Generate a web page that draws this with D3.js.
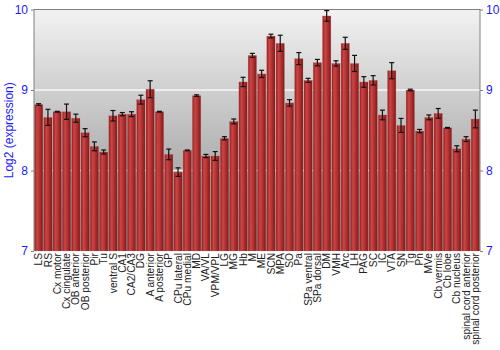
<!DOCTYPE html>
<html>
<head>
<meta charset="utf-8">
<script src="https://cdn.jsdelivr.net/npm/d3@7"></script>
<style>
  body { margin: 0; background: #fff; }
  svg { font-family: "Liberation Sans", Arial, sans-serif; }
</style>
</head>
<body>
<div id="viz"></div>
<script>
// regions (x categories)
var regions = ["LS","RS","Cx motor","Cx cingulate","OB anterior","OB posterior","Pir","Tu",
  "ventral S","CA1","CA2/CA3","DG","A anterior","A posterior","GP","CPu lateral","CPu medial",
  "MD","VA/VL","VPM/VPL","LG","MG","Hb","M","ME","SCN","MPA","SO","Pa","SPa ventral","SPa dorsal",
  "DM","VMH","Arc","LH","PAG","SC","IC","VTA","SN","Tg","Pn","MVe","Cb vermis","Cb lobe",
  "Cb nucleus","spinal cord anterior","spinal cord posterior"];

// log2 expression means
var means = [8.82,8.66,8.73,8.73,8.65,8.47,8.30,8.23,
  8.68,8.70,8.70,8.88,9.01,8.73,8.20,7.98,8.25,
  8.93,8.18,8.18,8.40,8.61,9.10,9.43,9.20,9.67,9.58,8.84,9.39,9.12,9.34,
  9.92,9.33,9.58,9.33,9.10,9.12,8.69,9.24,8.56,9.00,8.49,8.66,8.71,8.53,
  8.27,8.39,8.64];

// standard errors
var errors = [0.01,0.10,0.005,0.095,0.05,0.05,0.055,0.025,
  0.065,0.02,0.03,0.055,0.105,0.005,0.066,0.053,0.005,
  0.01,0.02,0.055,0.02,0.03,0.058,0.025,0.045,0.023,0.10,0.04,0.075,0.025,0.04,
  0.066,0.033,0.075,0.10,0.066,0.058,0.06,0.10,0.087,0.01,0.02,0.03,0.06,0.005,
  0.037,0.03,0.11];

var yTicks = [7, 8, 9, 10];

var W = 500, H = 350;
var margin = {top: 9.5, right: 20, bottom: 99, left: 34};
var width = W - margin.left - margin.right,
    height = H - margin.top - margin.bottom;

var svg = d3.select("#viz").append("svg")
    .attr("width", W).attr("height", H);

var defs = svg.append("defs");
var bg = defs.append("linearGradient").attr("id", "bg")
    .attr("x1", 0).attr("y1", 0).attr("x2", 0).attr("y2", 1);
bg.append("stop").attr("offset", "0%").attr("stop-color", "#f2f2f2");
bg.append("stop").attr("offset", "100%").attr("stop-color", "#8a8a8a");

var barGrad = defs.append("linearGradient").attr("id", "bar")
    .attr("x1", 0).attr("y1", 0).attr("x2", 1).attr("y2", 0);
barGrad.append("stop").attr("offset", "0%").attr("stop-color", "#8e1f1f");
barGrad.append("stop").attr("offset", "30%").attr("stop-color", "#cc4545");
barGrad.append("stop").attr("offset", "55%").attr("stop-color", "#b83535");
barGrad.append("stop").attr("offset", "100%").attr("stop-color", "#7e1a1a");

var g = svg.append("g")
    .attr("transform", "translate(" + margin.left + "," + margin.top + ")");

var x = d3.scaleBand()
    .domain(regions)
    .range([0, width])
    .paddingInner(0.1)
    .paddingOuter(0.05);

var y = d3.scaleLinear()
    .domain([7, 10])
    .range([height, 0]);

// background
g.append("rect")
    .attr("width", width).attr("height", height)
    .attr("fill", "url(#bg)");

// grid lines
g.selectAll(".grid")
  .data([8, 9])
  .enter().append("line")
    .attr("x1", 0).attr("x2", width)
    .attr("y1", function(d) { return y(d); })
    .attr("y2", function(d) { return y(d); })
    .attr("stroke", "#ffffff")
    .attr("stroke-width", 1.5)
    .attr("opacity", 0.85);

// bars
g.selectAll(".bar")
  .data(means)
  .enter().append("rect")
    .attr("x", function(d, i) { return x(regions[i]); })
    .attr("y", function(d) { return y(d); })
    .attr("width", x.bandwidth())
    .attr("height", function(d) { return height - y(d); })
    .attr("fill", "url(#bar)")
    .attr("stroke", "#c66")
    .attr("stroke-opacity", 0.35)
    .attr("stroke-width", 0.6);

// error bars
var eb = g.selectAll(".err")
  .data(means)
  .enter().append("g")
    .attr("transform", function(d, i) {
      return "translate(" + (x(regions[i]) + x.bandwidth() / 2) + ",0)";
    });
eb.append("line")
    .attr("y1", function(d, i) { return y(d + errors[i]); })
    .attr("y2", function(d, i) { return y(d - errors[i]); })
    .attr("stroke", "#111").attr("stroke-width", 1.2);
eb.append("line")
    .attr("x1", -2.5).attr("x2", 2.5)
    .attr("y1", function(d, i) { return y(d + errors[i]); })
    .attr("y2", function(d, i) { return y(d + errors[i]); })
    .attr("stroke", "#111").attr("stroke-width", 1.2);
eb.append("line")
    .attr("x1", -2.5).attr("x2", 2.5)
    .attr("y1", function(d, i) { return y(d - errors[i]); })
    .attr("y2", function(d, i) { return y(d - errors[i]); })
    .attr("stroke", "#111").attr("stroke-width", 1.2);

// frame: top
g.append("line").attr("x1", 0).attr("x2", width).attr("y1", 0).attr("y2", 0)
    .attr("stroke", "#808080");

// left axis
var left = g.append("g")
    .call(d3.axisLeft(y).tickValues(yTicks).tickFormat(d3.format("d")).tickSize(3));
left.select(".domain").attr("stroke", "#808080").attr("d", "M0,0V" + height);
left.selectAll(".tick line").attr("stroke", "#808080");
left.selectAll("text").attr("fill", "#1a1aff").style("font-size", "12px");

// right axis
var right = g.append("g")
    .attr("transform", "translate(" + width + ",0)")
    .call(d3.axisRight(y).tickValues(yTicks).tickFormat(d3.format("d")).tickSize(3));
right.select(".domain").attr("stroke", "#808080").attr("d", "M0,0V" + height);
right.selectAll(".tick line").attr("stroke", "#808080");
right.selectAll("text").attr("fill", "#1a1aff").style("font-size", "12px");

// x labels
var bottom = g.append("g")
    .attr("transform", "translate(0," + height + ")")
    .call(d3.axisBottom(x).tickSize(0));
bottom.select(".domain").remove();
bottom.selectAll("text")
    .attr("fill", "#222")
    .style("font-size", "10.2px")
    .attr("text-anchor", "end")
    .attr("transform", "rotate(-90)")
    .attr("x", -2)
    .attr("y", 0)
    .attr("dy", "0.35em");

// y label
svg.append("text")
    .attr("transform", "translate(13," + (margin.top + height / 2) + ") rotate(-90)")
    .attr("text-anchor", "middle")
    .attr("fill", "#1a1aff")
    .style("font-size", "12px")
    .text("Log2 (expression)");
</script>
</body>
</html>
